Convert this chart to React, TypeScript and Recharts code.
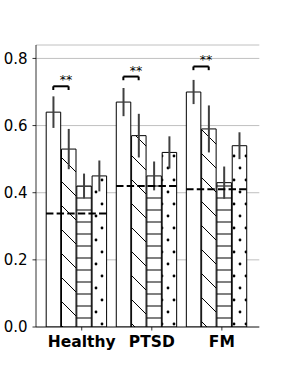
import React from 'react';
import { BarChart, Bar, XAxis, YAxis, CartesianGrid, ErrorBar, ReferenceLine } from 'recharts';

// groups on the x axis
const groups = ['Healthy', 'PTSD', 'FM'];

// four conditions per group (plain, back hatch, grey lines, dots)
const plainMeans = [0.64, 0.67, 0.70];
const plainErr = [0.047, 0.042, 0.036];
const hatchMeans = [0.53, 0.57, 0.59];
const hatchErr = [0.06, 0.065, 0.07];
const lineMeans = [0.42, 0.45, 0.43];
const lineErr = [0.037, 0.043, 0.048];
const dotMeans = [0.45, 0.52, 0.54];
const dotErr = [0.046, 0.048, 0.04];

// dashed reference level per group and significance bracket height
const chanceLevel = [0.338, 0.42, 0.41];
const sigHeight = [0.717, 0.746, 0.776];
const sigMarks = ['**', '**', '**'];

const yTicks = [0, 0.2, 0.4, 0.6, 0.8];

const data = groups.map((g, i) => ({
  idx: i,
  group: g,
  plain: plainMeans[i], plainErr: plainErr[i],
  hatch: hatchMeans[i], hatchErr: hatchErr[i],
  lines: lineMeans[i], linesErr: lineErr[i],
  dots: dotMeans[i], dotsErr: dotErr[i],
}));

const W = 288;
const H = 374;
const Y_AXIS_W = 36;
const MARGIN = { top: 45, right: 28.7, bottom: 17, left: 0 };
const PAD = { left: 5.2, right: 7.9 };
const BAR = 14.5;
const GAP = 0.8;
const FONT = 'DejaVu Sans';

// size of one group in x units (a group = 1 unit on the hidden number axis)
const plotW = W - MARGIN.left - Y_AXIS_W - MARGIN.right;
const bandPx = (plotW - PAD.left - PAD.right) / groups.length;
const step = (BAR + GAP) / bandPx;
const halfGroup = (4 * BAR + 3 * GAP) / 2 / bandPx;

const GroupTick = ({ x, y, payload }: any) => (
  <g>
    <line x1={x + 5.5} x2={x + 5.5} y1={y} y2={y + 3.5} stroke="black" strokeWidth={0.8} />
    <text x={x + 5.5} y={y + 19.7} textAnchor="middle" fontFamily={FONT} fontSize={15.5}
      fontWeight="bold" fill="black">{payload.value}</text>
  </g>
);

const StarLabel = ({ viewBox, mark }: any) => (
  <text x={viewBox.x + viewBox.width / 2 + 5} y={viewBox.y - 2} textAnchor="middle"
    fontFamily={FONT} fontSize={12.5} fill="black">{mark}</text>
);

export default function App() {
  return (
    <div style={{ position: 'absolute', left: 0, top: 0 }}>
      <BarChart width={W} height={H} data={data} margin={MARGIN} barSize={BAR} barGap={GAP}>
        <defs>
          <pattern id="backHatch" patternUnits="userSpaceOnUse" width={24} height={24}>
            <rect width={24} height={24} fill="white" />
            <line x1={0} y1={0} x2={24} y2={24} stroke="black" strokeWidth={1} />
            <line x1={-2} y1={22} x2={2} y2={26} stroke="black" strokeWidth={1} />
            <line x1={22} y1={-2} x2={26} y2={2} stroke="black" strokeWidth={1} />
          </pattern>
          <pattern id="greyLines" patternUnits="userSpaceOnUse" width={12} height={12}>
            <rect width={12} height={12} fill="white" />
            <rect x={0} y={5} width={12} height={2} fill="#808080" />
          </pattern>
          <pattern id="dotFill" patternUnits="userSpaceOnUse" x={9} y={18} width={12} height={24}>
            <rect width={12} height={24} fill="white" />
            <circle cx={3} cy={6} r={1.4} fill="black" />
            <circle cx={9} cy={18} r={1.4} fill="black" />
          </pattern>
        </defs>
        <CartesianGrid vertical={false} stroke="#b0b0b0" strokeWidth={0.8} />
        <XAxis dataKey="group" padding={PAD} height={30} stroke="black" strokeWidth={0.8}
          tickSize={0} tickMargin={0} tickLine={false} tick={<GroupTick />} interval={0} />
        <XAxis xAxisId="num" dataKey="idx" type="number" orientation="top" domain={[-0.5, 2.5]}
          padding={PAD} allowDataOverflow height={0} tick={false} tickLine={false}
          stroke="black" strokeWidth={0.8} />
        <YAxis domain={[0, 0.84]} ticks={yTicks} allowDataOverflow width={Y_AXIS_W}
          tickFormatter={(v: number) => v.toFixed(1)} tickSize={3.5} tickMargin={5}
          stroke="black" strokeWidth={0.8}
          tick={{ fill: 'black', fontSize: 15, fontFamily: FONT }} />
        <YAxis yAxisId="right" orientation="right" domain={[0, 0.84]} width={0} tick={false}
          tickLine={false} stroke="black" strokeWidth={0.8} />
        <Bar dataKey="plain" fill="white" stroke="black" strokeWidth={1} isAnimationActive={false}>
          <ErrorBar dataKey="plainErr" direction="y" width={0} stroke="#404040" strokeWidth={2} />
        </Bar>
        <Bar dataKey="hatch" fill="url(#backHatch)" stroke="black" strokeWidth={1} isAnimationActive={false}>
          <ErrorBar dataKey="hatchErr" direction="y" width={0} stroke="#404040" strokeWidth={2} />
        </Bar>
        <Bar dataKey="lines" fill="url(#greyLines)" stroke="black" strokeWidth={1} isAnimationActive={false}>
          <ErrorBar dataKey="linesErr" direction="y" width={0} stroke="#404040" strokeWidth={2} />
        </Bar>
        <Bar dataKey="dots" fill="url(#dotFill)" stroke="black" strokeWidth={1} isAnimationActive={false}>
          <ErrorBar dataKey="dotsErr" direction="y" width={0} stroke="#404040" strokeWidth={2} />
        </Bar>
        {chanceLevel.map((v, i) => (
          <ReferenceLine key={'c' + i} xAxisId="num" stroke="black" strokeWidth={2}
            strokeDasharray="7.4 3.2" ifOverflow="visible"
            segment={[{ x: i - halfGroup, y: v }, { x: i + halfGroup, y: v }]} />
        ))}
        {sigHeight.map((v, i) => {
          const x1 = i - 1.5 * step;
          const x2 = i - 0.5 * step;
          return (
            <React.Fragment key={'s' + i}>
              <ReferenceLine xAxisId="num" stroke="black" strokeWidth={2} ifOverflow="visible"
                segment={[{ x: x1, y: v }, { x: x2, y: v }]}
                label={<StarLabel mark={sigMarks[i]} />} />
              <ReferenceLine xAxisId="num" stroke="black" strokeWidth={2} ifOverflow="visible"
                segment={[{ x: x1, y: v }, { x: x1, y: v - 0.011 }]} />
              <ReferenceLine xAxisId="num" stroke="black" strokeWidth={2} ifOverflow="visible"
                segment={[{ x: x2, y: v }, { x: x2, y: v - 0.011 }]} />
            </React.Fragment>
          );
        })}
      </BarChart>
    </div>
  );
}
